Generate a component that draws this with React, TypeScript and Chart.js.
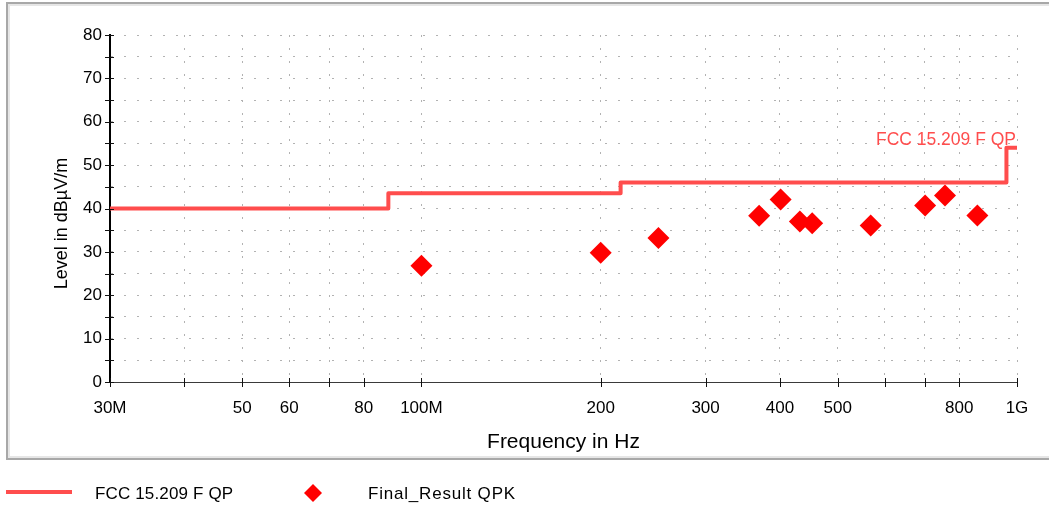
import React, { useEffect, useRef } from 'react';
import { Chart, registerables } from 'chart.js';

Chart.register(...registerables);

// ---- data (frequencies in MHz, levels in dBµV/m) ----
const LIMIT_FREQ_MHZ = [30, 88, 88, 216, 216, 960, 960, 1000];
const LIMIT_LEVEL = [40, 40, 43.5, 43.5, 46, 46, 54, 54];
const RESULT_FREQ_MHZ = [100, 200, 250, 369, 401, 432, 453, 568, 701, 757, 858];
const RESULT_LEVEL = [26.8, 29.8, 33.2, 38.3, 42.1, 37.0, 36.6, 36.1, 40.7, 43.0, 38.4];

const X_TICK_MHZ = [30, 40, 50, 60, 70, 80, 100, 200, 300, 400, 500, 600, 700, 800, 1000];
const X_TICK_LABELS = ['30M', '', '50', '60', '', '80', '100M', '200', '300', '400', '500', '', '', '800', '1G'];
const Y_TICKS = [0, 5, 10, 15, 20, 25, 30, 35, 40, 45, 50, 55, 60, 65, 70, 75, 80];
const Y_TICK_LABELS = ['0', '', '10', '', '20', '', '30', '', '40', '', '50', '', '60', '', '70', '', '80'];

const LIMIT_NAME = 'FCC 15.209 F QP';
const RESULT_NAME = 'Final_Result QPK';
const X_TITLE = 'Frequency in Hz';
const Y_TITLE = 'Level in dBµV/m';

const FONT = "'Liberation Sans', Arial, Helvetica, sans-serif";
const LIMIT_COLOR = '#ff4d4d';
const RESULT_COLOR = '#ff0000';

export default function App() {
  const ref = useRef<HTMLCanvasElement | null>(null);

  useEffect(() => {
    const canvas = ref.current;
    if (!canvas) return;

    const framePlugin = {
      id: 'frame',
      beforeDraw(chart: any) {
        const ctx = chart.ctx;
        ctx.save();
        ctx.fillStyle = '#ffffff';
        ctx.fillRect(0, 0, chart.width, chart.height);
        ctx.strokeStyle = '#e6e6e6';
        ctx.lineWidth = 2;
        ctx.strokeRect(9, 5, 1100, 452);
        ctx.strokeStyle = '#a8a8a8';
        ctx.lineWidth = 2;
        ctx.strokeRect(7, 3, 1100, 456);
        ctx.restore();
      },
    };

    const ticksPlugin = {
      id: 'crossTicks',
      afterDraw(chart: any) {
        const ctx = chart.ctx;
        const xs = chart.scales.x;
        const ys = chart.scales.y;
        const area = chart.chartArea;
        ctx.save();
        ctx.strokeStyle = '#111';
        ctx.lineWidth = 1;
        ctx.beginPath();
        xs.ticks.forEach((t: any) => {
          const px = Math.round(xs.getPixelForValue(t.value)) + 0.5;
          ctx.moveTo(px, area.bottom - 4);
          ctx.lineTo(px, area.bottom + 5);
        });
        ys.ticks.forEach((t: any) => {
          const py = Math.round(ys.getPixelForValue(t.value)) + 0.5;
          ctx.moveTo(area.left - 5, py);
          ctx.lineTo(area.left + 4, py);
        });
        ctx.stroke();
        ctx.restore();
      },
    };

    const yTitlePlugin = {
      id: 'yTitle',
      afterDraw(chart: any) {
        const ctx = chart.ctx;
        const ys = chart.scales.y;
        const cy = (ys.getPixelForValue(0) + ys.getPixelForValue(80)) / 2 + 15;
        ctx.save();
        ctx.translate(62, cy);
        ctx.rotate(-Math.PI / 2);
        ctx.font = `18px ${FONT}`;
        ctx.fillStyle = '#000';
        ctx.textAlign = 'center';
        ctx.textBaseline = 'middle';
        ctx.fillText(Y_TITLE, 0, 0);
        ctx.restore();
      },
    };

    const labelPlugin = {
      id: 'limitLabel',
      afterDatasetsDraw(chart: any) {
        const ctx = chart.ctx;
        const xs = chart.scales.x;
        const ys = chart.scales.y;
        const n = LIMIT_FREQ_MHZ.length - 1;
        ctx.save();
        ctx.font = `17.5px ${FONT}`;
        ctx.fillStyle = LIMIT_COLOR;
        ctx.textAlign = 'right';
        ctx.textBaseline = 'alphabetic';
        ctx.fillText(LIMIT_NAME, xs.getPixelForValue(LIMIT_FREQ_MHZ[n]) - 1, ys.getPixelForValue(LIMIT_LEVEL[n]) - 3);
        ctx.restore();
      },
    };

    const legendPlugin = {
      id: 'customLegend',
      afterDraw(chart: any) {
        const ctx = chart.ctx;
        const ds = chart.data.datasets;
        const y = 493;
        ctx.save();
        ctx.strokeStyle = LIMIT_COLOR;
        ctx.lineWidth = 4;
        ctx.beginPath();
        ctx.moveTo(6, y - 1);
        ctx.lineTo(72, y - 1);
        ctx.stroke();
        ctx.font = `17px ${FONT}`;
        ctx.fillStyle = '#000';
        ctx.textAlign = 'left';
        ctx.textBaseline = 'middle';
        ctx.letterSpacing = '0.15px';
        ctx.fillText(ds[0].label, 95, y + 1);
        const cx = 313;
        const r = 9;
        ctx.fillStyle = RESULT_COLOR;
        ctx.beginPath();
        ctx.moveTo(cx, y - r);
        ctx.lineTo(cx + r, y);
        ctx.lineTo(cx, y + r);
        ctx.lineTo(cx - r, y);
        ctx.closePath();
        ctx.fill();
        ctx.fillStyle = '#000';
        ctx.letterSpacing = '0.8px';
        ctx.fillText(ds[1].label, 368, y + 1);
        ctx.restore();
      },
    };

    const chart = new Chart(canvas, {
      type: 'scatter',
      data: {
        datasets: [
          {
            type: 'line',
            label: LIMIT_NAME,
            data: LIMIT_FREQ_MHZ.map((f, i) => ({ x: f, y: LIMIT_LEVEL[i] })),
            borderColor: LIMIT_COLOR,
            backgroundColor: LIMIT_COLOR,
            borderWidth: 4,
            borderJoinStyle: 'round',
            pointRadius: 0,
            tension: 0,
            fill: false,
            showLine: true,
          },
          {
            type: 'scatter',
            label: RESULT_NAME,
            data: RESULT_FREQ_MHZ.map((f, i) => ({ x: f, y: RESULT_LEVEL[i] })),
            pointStyle: 'rectRot',
            pointRadius: 11,
            pointBorderWidth: 0,
            borderWidth: 0,
            backgroundColor: RESULT_COLOR,
            borderColor: RESULT_COLOR,
          },
        ],
      },
      options: {
        animation: false,
        responsive: false,
        devicePixelRatio: 1,
        layout: { padding: { left: 0, right: 32, top: 35, bottom: 48 } },
        plugins: {
          legend: { display: false },
          tooltip: { enabled: false },
        },
        scales: {
          x: {
            type: 'logarithmic',
            min: 30,
            max: 1000,
            afterBuildTicks: (scale: any) => {
              scale.ticks = X_TICK_MHZ.map((v) => ({ value: v }));
            },
            afterFit: (scale: any) => {
              scale.height = 76;
            },
            ticks: {
              autoSkip: false,
              maxRotation: 0,
              minRotation: 0,
              padding: 16,
              color: '#000',
              font: { family: FONT, size: 17 },
              callback: (_v: any, i: number) => X_TICK_LABELS[i],
            },
            grid: {
              color: '#b2b2b2',
              lineWidth: 1,
              drawTicks: false,
            },
            border: { display: true, color: '#3a3a3a', width: 1, dash: [2, 11] },
            title: {
              display: true,
              text: X_TITLE,
              color: '#000',
              font: { family: FONT, size: 21 },
              padding: { top: 0, bottom: 3 },
            },
          },
          y: {
            type: 'linear',
            min: 0,
            max: 80,
            afterBuildTicks: (scale: any) => {
              scale.ticks = Y_TICKS.map((v) => ({ value: v }));
            },
            afterFit: (scale: any) => {
              scale.width = 110;
            },
            ticks: {
              autoSkip: false,
              padding: 8,
              color: '#000',
              font: { family: FONT, size: 17 },
              callback: (_v: any, i: number) => Y_TICK_LABELS[i],
            },
            grid: {
              color: '#b2b2b2',
              lineWidth: 1,
              drawTicks: false,
            },
            border: { display: true, color: '#000', width: 2, dash: [2, 11] },
            title: { display: false, text: Y_TITLE },
          },
        },
      },
      plugins: [framePlugin, ticksPlugin, yTitlePlugin, labelPlugin, legendPlugin],
    } as any);

    return () => {
      chart.destroy();
    };
  }, []);

  return (
    <div style={{ position: 'absolute', left: 0, top: 0, width: 1049, height: 506 }}>
      <canvas ref={ref} width={1049} height={506} style={{ display: 'block' }} />
    </div>
  );
}
